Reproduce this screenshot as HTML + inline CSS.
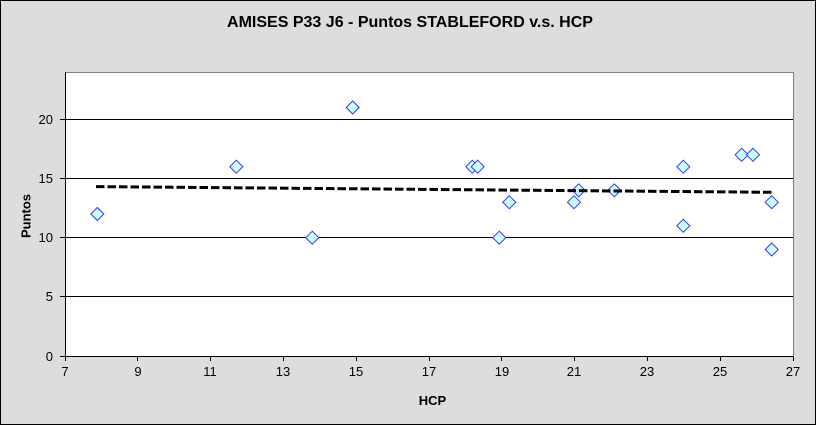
<!DOCTYPE html>
<html>
<head>
<meta charset="utf-8">
<style>
  html, body { margin:0; padding:0; background:#dddddd; }
  svg { display:block; }
  text { font-family: "Liberation Sans", Arial, sans-serif; fill:#000; }
</style>
</head>
<body>
<svg width="816" height="425" viewBox="0 0 816 425" xmlns="http://www.w3.org/2000/svg">
  <!-- chart background with outer border -->
  <rect x="0.5" y="0.5" width="815" height="424" fill="#dddddd" stroke="#000" stroke-width="1"/>

  <!-- title -->
  <text x="410" y="27" font-size="16" font-weight="bold" text-anchor="middle" textLength="366" lengthAdjust="spacingAndGlyphs">AMISES P33 J6 - Puntos STABLEFORD v.s. HCP</text>

  <!-- plot area -->
  <rect x="65" y="72" width="728" height="284" fill="#ffffff"/>
  <!-- top & right gray border -->
  <line x1="65" y1="72.5" x2="793" y2="72.5" stroke="#808080" stroke-width="1"/>
  <line x1="793.5" y1="72" x2="793.5" y2="356" stroke="#808080" stroke-width="1"/>

  <!-- gridlines -->
  <g stroke="#000" stroke-width="1">
    <line x1="65" y1="119.5" x2="793" y2="119.5"/>
    <line x1="65" y1="178.5" x2="793" y2="178.5"/>
    <line x1="65" y1="237.5" x2="793" y2="237.5"/>
    <line x1="65" y1="296.5" x2="793" y2="296.5"/>
  </g>

  <!-- axes -->
  <g stroke="#000" stroke-width="1">
    <line x1="65.5" y1="72" x2="65.5" y2="357"/>
    <line x1="65" y1="356.5" x2="794" y2="356.5"/>
    <!-- y ticks -->
    <line x1="60" y1="119.5" x2="65" y2="119.5"/>
    <line x1="60" y1="178.5" x2="65" y2="178.5"/>
    <line x1="60" y1="237.5" x2="65" y2="237.5"/>
    <line x1="60" y1="296.5" x2="65" y2="296.5"/>
    <line x1="60" y1="356.5" x2="65" y2="356.5"/>
    <!-- x ticks -->
    <line x1="65.5" y1="356" x2="65.5" y2="361"/>
    <line x1="137.5" y1="356" x2="137.5" y2="361"/>
    <line x1="210.5" y1="356" x2="210.5" y2="361"/>
    <line x1="283.5" y1="356" x2="283.5" y2="361"/>
    <line x1="356.5" y1="356" x2="356.5" y2="361"/>
    <line x1="429.5" y1="356" x2="429.5" y2="361"/>
    <line x1="501.5" y1="356" x2="501.5" y2="361"/>
    <line x1="574.5" y1="356" x2="574.5" y2="361"/>
    <line x1="647.5" y1="356" x2="647.5" y2="361"/>
    <line x1="720.5" y1="356" x2="720.5" y2="361"/>
    <line x1="793.5" y1="356" x2="793.5" y2="361"/>
  </g>

  <!-- y tick labels -->
  <g font-size="13" text-anchor="end">
    <text x="53" y="124">20</text>
    <text x="53" y="183">15</text>
    <text x="53" y="242">10</text>
    <text x="53" y="301">5</text>
    <text x="53" y="361">0</text>
  </g>

  <!-- x tick labels -->
  <g font-size="13" text-anchor="middle">
    <text x="65" y="376">7</text>
    <text x="138" y="376">9</text>
    <text x="210" y="376">11</text>
    <text x="283" y="376">13</text>
    <text x="356" y="376">15</text>
    <text x="429" y="376">17</text>
    <text x="502" y="376">19</text>
    <text x="574" y="376">21</text>
    <text x="647" y="376">23</text>
    <text x="720" y="376">25</text>
    <text x="793" y="376">27</text>
  </g>

  <!-- axis titles -->
  <text x="432.5" y="405" font-size="13" font-weight="bold" text-anchor="middle">HCP</text>
  <text x="0" y="0" font-size="13" font-weight="bold" text-anchor="middle" transform="translate(30.5,216) rotate(-90)">Puntos</text>

  <!-- data points -->
  <g fill="#ccffff" stroke="#3333ff" stroke-width="1">
    <path d="M97.3,207.5 L103.8,214 L97.3,220.5 L90.8,214 Z"/>
    <path d="M236.3,160.2 L242.8,166.7 L236.3,173.2 L229.8,166.7 Z"/>
    <path d="M312.3,231.2 L318.8,237.7 L312.3,244.2 L305.8,237.7 Z"/>
    <path d="M352.7,101 L359.2,107.5 L352.7,114 L346.2,107.5 Z"/>
    <path d="M472.3,160.2 L478.8,166.7 L472.3,173.2 L465.8,166.7 Z"/>
    <path d="M477.7,160.2 L484.2,166.7 L477.7,173.2 L471.2,166.7 Z"/>
    <path d="M499.3,231.2 L505.8,237.7 L499.3,244.2 L492.8,237.7 Z"/>
    <path d="M509.3,195.7 L515.8,202.2 L509.3,208.7 L502.8,202.2 Z"/>
    <path d="M574,195.7 L580.5,202.2 L574,208.7 L567.5,202.2 Z"/>
    <path d="M578.7,183.8 L585.2,190.3 L578.7,196.8 L572.2,190.3 Z"/>
    <path d="M614.3,183.8 L620.8,190.3 L614.3,196.8 L607.8,190.3 Z"/>
    <path d="M683.3,160.2 L689.8,166.7 L683.3,173.2 L676.8,166.7 Z"/>
    <path d="M683.3,219.3 L689.8,225.8 L683.3,232.3 L676.8,225.8 Z"/>
    <path d="M741.7,148.3 L748.2,154.8 L741.7,161.3 L735.2,154.8 Z"/>
    <path d="M753,148.3 L759.5,154.8 L753,161.3 L746.5,154.8 Z"/>
    <path d="M771.7,195.7 L778.2,202.2 L771.7,208.7 L765.2,202.2 Z"/>
    <path d="M771.7,243 L778.2,249.5 L771.7,256 L765.2,249.5 Z"/>
  </g>

  <!-- trendline -->
  <line x1="96" y1="186.6" x2="772" y2="192.3" stroke="#000" stroke-width="3" stroke-dasharray="8.5 3"/>
</svg>
</body>
</html>
